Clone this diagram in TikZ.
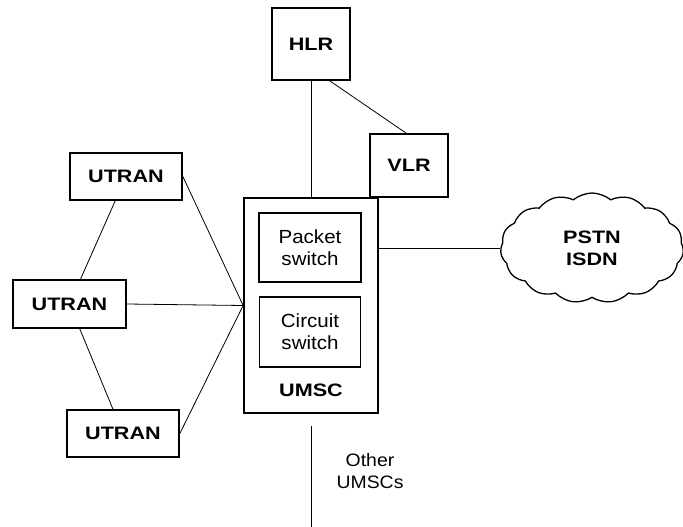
\documentclass[tikz,border=0pt]{standalone}
\usepackage{fontspec}
\setmainfont{Liberation Sans}
\newfontfamily\tagfont[FakeStretch=1.2]{Liberation Sans}
\newfontfamily\plainfont[FakeStretch=1.08]{Liberation Sans}
\usetikzlibrary{shapes.symbols}

\begin{document}
\begin{tikzpicture}[x=1pt,y=-1pt,
  box/.style={draw,line width=1.7pt,inner sep=0pt,align=center,
              font=\tagfont\bfseries\fontsize{18}{22}\selectfont},
  swbox/.style={box,font=\plainfont\fontsize{19}{22}\selectfont},
  tag/.style={align=center,inner sep=0pt,font=\tagfont\bfseries\fontsize{18}{22}\selectfont},
  note/.style={align=center,inner sep=0pt,font=\plainfont\fontsize{18}{22}\selectfont},
  link/.style={line width=0.8pt}]
\useasboundingbox (0,0) rectangle (683,527);

% core network
\node[box,minimum width=78pt,minimum height=72pt] (hlr) at (311,44) {HLR};
\node[box,minimum width=78pt,minimum height=63pt] (vlr) at (409,165.5) {VLR};
\node[box,minimum width=134pt,minimum height=215pt] (umsc) at (311,305.5) {};
\node[swbox,minimum width=102pt,minimum height=69pt] (pkt) at (310,247.5) {Packet\\switch};
\node[swbox,minimum width=101pt,minimum height=70pt] (cct) at (310,332) {Circuit\\switch};
\node[tag] (umsclbl) at (311,390) {UMSC};

% radio side
\node[box,minimum width=112pt,minimum height=47pt] (ut1) at (126,176.5) {UTRAN};
\node[box,minimum width=113pt,minimum height=48pt] (ut2) at (69.5,304) {UTRAN};
\node[box,minimum width=112pt,minimum height=47pt] (ut3) at (123,433.5) {UTRAN};

\node[cloud,draw,line width=1.3pt,cloud puffs=15,cloud puff arc=80,aspect=1.7,inner sep=0pt,
      minimum width=183pt,minimum height=110pt,
      font=\tagfont\bfseries\fontsize{18}{22}\selectfont,align=center] (pstn) at (592,248) {PSTN\\ISDN};

\node[note] (other) at (370,471) {Other\\UMSCs};
\coordinate (othend) at (311,527);

\foreach \a in {ut1,ut2,ut3} \draw[link] (\a.east) -- (umsc.west);
\foreach \a/\b in {ut1/ut2,ut2/ut3} \draw[link] (\a) -- (\b);
\draw[link] (hlr.south) -- (umsc.north);
\draw[link] (hlr.-63) -- (vlr.95);
\draw[link] (umsc.east |- pstn.west) -- (pstn.west);
\draw[link,shorten <=12pt] (umsc.south) -- (othend);
\end{tikzpicture}
\end{document}
